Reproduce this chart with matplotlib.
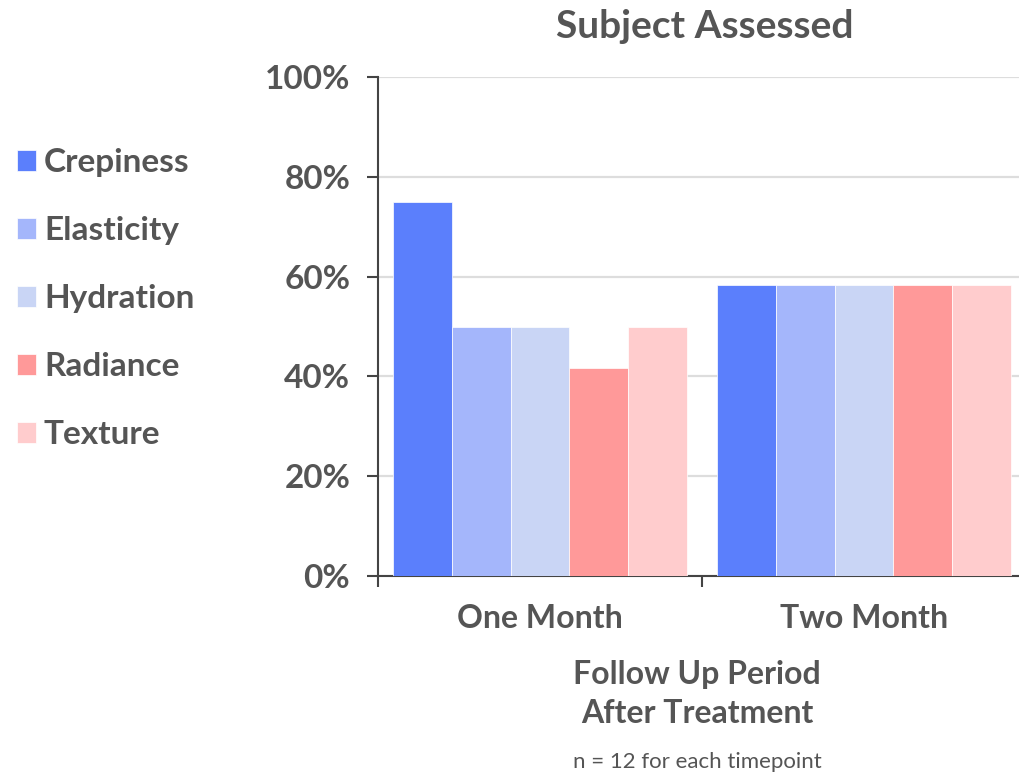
import matplotlib
matplotlib.use("Agg")
import matplotlib.pyplot as plt
import numpy as np

# Share of subjects (n = 12) reporting improvement, per attribute and timepoint
periods = ["One Month", "Two Month"]
attributes = ["Crepiness", "Elasticity", "Hydration", "Radiance", "Texture"]
one_month = [75.0, 50.0, 50.0, 41.67, 50.0]
two_month = [58.33, 58.33, 58.33, 58.33, 58.33]
colors = ["#5B7FFC", "#A4B6FB", "#C9D5F5", "#FF9999", "#FFCCCD"]
y_ticks = [0, 20, 40, 60, 80, 100]

TEXT = "#555555"
plt.rcParams["font.family"] = ["Lato", "DejaVu Sans"]

W, H = 1020, 776
fig = plt.figure(figsize=(W / 100, H / 100), dpi=100)
# plot area in pixel coordinates: left 378, right 1026, top 77, bottom 576
ax = fig.add_axes([378 / W, 1 - 576 / H, 648 / W, (576 - 77) / H])

values = np.array([one_month, two_month])  # shape (periods, attributes)
x = np.arange(len(periods))
group_width = 0.91
bw = group_width / len(attributes)
for i, (name, col) in enumerate(zip(attributes, colors)):
    offs = (i - (len(attributes) - 1) / 2) * bw
    ax.bar(x + offs, values[:, i], width=bw, color=col, label=name,
           edgecolor="white", linewidth=0.5, zorder=3)

ax.set_xlim(-0.5, len(periods) - 0.5)
ax.set_ylim(0, 100)
ax.set_yticks(y_ticks)
ax.set_yticklabels([f"{t}%" for t in y_ticks])
ax.grid(axis="y", color="#DDDDDD", linewidth=1.6, zorder=0)
ax.set_axisbelow(True)

ax.set_xticks(x)
ax.set_xticklabels(periods)
ax.set_xticks(np.arange(len(periods) + 1) - 0.5, minor=True)
ax.tick_params(axis="x", which="major", length=0, pad=20, labelsize=23,
               labelcolor=TEXT)
ax.tick_params(axis="x", which="minor", length=8, width=1.5, color="#444444")
ax.tick_params(axis="y", length=8, width=1.5, color="#444444", pad=12,
               labelsize=24, labelcolor=TEXT)
for lab in ax.get_xticklabels() + ax.get_yticklabels():
    lab.set_fontweight("bold")

for s in ["top", "right"]:
    ax.spines[s].set_visible(False)
for s in ["left", "bottom"]:
    ax.spines[s].set_color("#444444")
    ax.spines[s].set_linewidth(1.5)

fig.text(705 / W, 1 - 27 / H, "Subject Assessed", ha="center", va="center",
         fontsize=28, fontweight="bold", color=TEXT)
fig.text(697 / W, 1 - 694 / H, "Follow Up Period\nAfter Treatment",
         ha="center", va="center", fontsize=23, fontweight="bold",
         color=TEXT, linespacing=1.38)
fig.text(697 / W, 1 - 762 / H, "n = 12 for each timepoint", ha="center",
         va="center", fontsize=16, color=TEXT)

leg = fig.legend(loc="upper left", bbox_to_anchor=(4 / W, 1 - 135 / H),
                 frameon=False, fontsize=24, handlelength=0.55,
                 handleheight=0.55, handletextpad=0.25, labelspacing=1.17,
                 borderaxespad=0)
for t in leg.get_texts():
    t.set_color(TEXT)
    t.set_fontweight("bold")

fig.savefig("out.png", dpi=100, facecolor="white")
